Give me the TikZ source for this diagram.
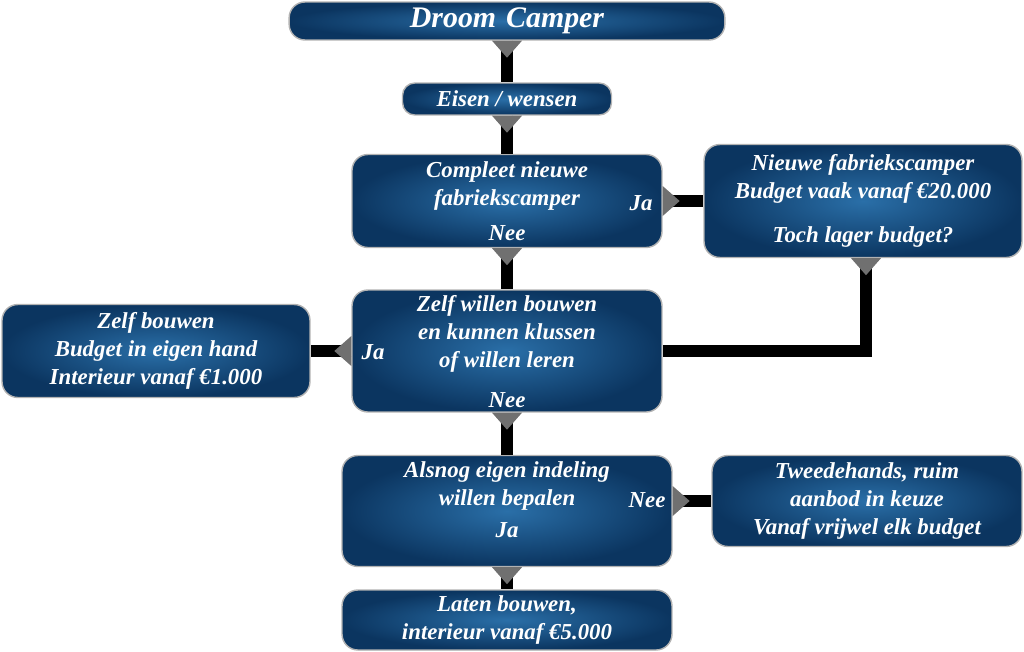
\documentclass[tikz,border=0pt]{standalone}
\usepackage{fontspec}
\setmainfont{Liberation Serif}
\usetikzlibrary{positioning}
\definecolor{boxdark}{HTML}{0B3560}
\definecolor{boxlight}{HTML}{2A6FA8}
\definecolor{tipgray}{HTML}{707070}
\tikzset{
  box/.style={draw=gray!60,line width=0.8pt,rounded corners=9pt,inner color=boxlight,outer color=boxdark,
    text=white,font=\bfseries\itshape\fontsize{13}{16}\selectfont,align=center,inner sep=0pt},
  conn/.style={line width=7pt,black},
  tip/.style={fill=tipgray},
  lbl/.style={text=white,font=\bfseries\itshape\fontsize{13}{16}\selectfont}
}
\newcommand\tipdown[1]{\fill[tip] (#1) ++(-15,0) -- ++(30,0) -- ++(-15,17) -- cycle;}
\newcommand\tipright[1]{\fill[tip] (#1) ++(0,-15) -- ++(0,30) -- ++(17,-15) -- cycle;}
\newcommand\tipleft[1]{\fill[tip] (#1) ++(0,-15) -- ++(0,30) -- ++(-17,-15) -- cycle;}
\begin{document}
\begin{tikzpicture}[x=0.02cm,y=-0.02cm]
  \useasboundingbox (0,0) rectangle (1024,652);

  % boxes
  \node[box,minimum width=310\pgflinewidth,text width=300*0.02cm,minimum height=0.76cm,font=\bfseries\itshape\fontsize{17}{20}\selectfont] (droom) at (507,21) {Droom Camper};
  \node[box,minimum width=4.18cm,minimum height=0.64cm,rounded corners=7pt] (eisen) at (507,99) {Eisen / wensen};
  \node[box,minimum width=6.2cm,minimum height=1.86cm] (compleet) at (507,201) {};
  \node[box,minimum width=6.36cm,minimum height=2.26cm] (nieuw) at (863,201) {Nieuwe fabriekscamper\\Budget vaak vanaf €20.000\\[9pt]Toch lager budget?};
  \node[box,minimum width=6.2cm,minimum height=2.44cm] (zelfwil) at (507,351) {};
  \node[box,minimum width=6.16cm,minimum height=1.86cm] (zelfbouw) at (156,351) {Zelf bouwen\\Budget in eigen hand\\Interieur vanaf €1.000};
  \node[box,minimum width=6.6cm,minimum height=2.22cm] (alsnog) at (507,511) {};
  \node[box,minimum width=6.2cm,minimum height=1.82cm] (tweede) at (867,501) {Tweedehands, ruim\\aanbod in keuze\\Vanaf vrijwel elk budget};
  \node[box,minimum width=6.6cm,minimum height=1.2cm] (laten) at (507,620) {Laten bouwen,\\interieur vanaf €5.000};

  % texts inside the question boxes
  \node[lbl,align=center] (t1) at (507,186) {Compleet nieuwe\\fabriekscamper};
  \node[lbl] (ja1) at (641,203) {Ja};
  \node[lbl] (nee1) at (507,233) {Nee};
  \node[lbl,align=center] (t2) at (507,334) {Zelf willen bouwen\\en kunnen klussen\\of willen leren};
  \node[lbl] (ja2) at (373,352) {Ja};
  \node[lbl] (nee2) at (507,400) {Nee};
  \node[lbl,align=center] (t3) at (507,486) {Alsnog eigen indeling\\willen bepalen};
  \node[lbl] (nee3) at (647,500) {Nee};
  \node[lbl] (ja3) at (507,530) {Ja};

  % connectors
  \coordinate (bend) at (866,351);
  \begin{scope}[on background layer/.try]
  \end{scope}
  \draw[conn] (droom.south) -- (eisen.north);
  \draw[conn] (eisen.south) -- (compleet.north);
  \draw[conn] (compleet.south) -- (zelfwil.north);
  \draw[conn] (zelfwil.south) -- (alsnog.north);
  \draw[conn] (alsnog.south) -- (laten.north);
  \draw[conn] (compleet.east) -- (nieuw.west);
  \draw[conn] (zelfwil.west) -- (zelfbouw.east);
  \draw[conn] (alsnog.east |- tweede.west) -- (tweede.west);
  \draw[conn] (nieuw.south -| bend) -- (bend) -- (zelfwil.east |- bend);

  % tips
  \tipdown{droom.south}
  \tipdown{eisen.south}
  \tipdown{compleet.south}
  \tipdown{zelfwil.south}
  \tipdown{alsnog.south}
  \tipdown{nieuw.south -| bend}
  \tipright{compleet.east}
  \tipleft{zelfwil.west}
  \tipright{alsnog.east |- tweede.west}
\end{tikzpicture}
\end{document}
